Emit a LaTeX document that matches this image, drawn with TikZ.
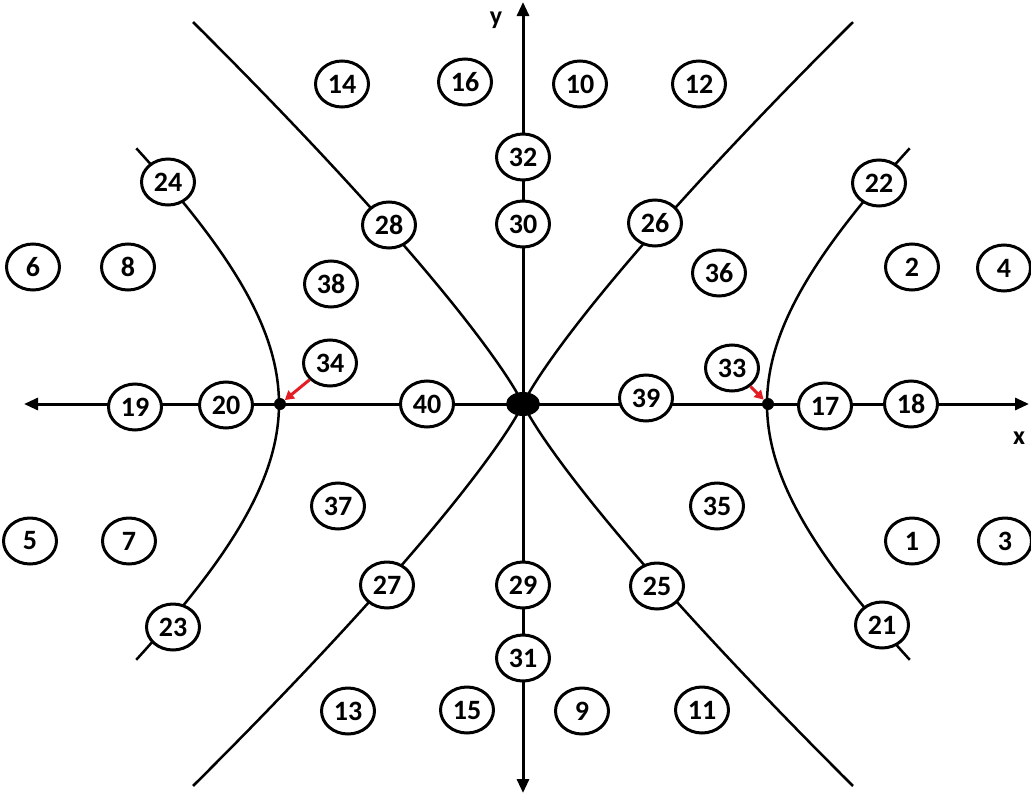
\documentclass[tikz,border=0pt]{standalone}
\usepackage{fontspec}
\setmainfont{Carlito}
\usetikzlibrary{shapes.geometric,arrows.meta}
\definecolor{arrred}{RGB}{228,28,36}
\begin{document}
\begin{tikzpicture}[x=1pt,y=-1pt,
  num/.style={ellipse,draw,line width=3pt,fill=white,minimum width=53pt,minimum height=46pt,inner sep=0pt,font=\fontsize{28}{30}\selectfont\bfseries},
  curve/.style={line width=2.5pt},
  axisline/.style={line width=3pt,{Triangle[length=14pt,width=12pt]}-{Triangle[length=14pt,width=12pt]}},
  redarr/.style={draw=arrred,line width=3pt,-{Triangle[length=9pt,width=10pt]}},
  dotnode/.style={circle,fill=black,inner sep=0pt,minimum size=12pt},
  axlabel/.style={font=\fontsize{26}{28}\selectfont\bfseries,inner sep=0pt}]
\useasboundingbox (0,0) rectangle (1031,795);
% coordinates
\coordinate (xl) at (24,404);
\coordinate (xr) at (1029,404);
\coordinate (yt) at (523,2);
\coordinate (yb) at (523,793);
% central curves
\foreach \sx in {-1,1}{
  \foreach \sy in {-1,1}{
    \draw[curve] plot[domain=0:330,samples=90] ({523+(\sx)*\x},{404-(\sy)*(2.72*pow(\x+2,0.854)-4.92)});
  }
}
% side hyperbolas
\foreach \s in {-1,1}{
  \draw[curve] plot[domain=-1.035:1.035,samples=80] ({523+(\s)*244*cosh(\x)},{404-208*sinh(\x)});
}
% axes
\draw[axisline] (xl) -- (xr);
\draw[axisline] (yb) -- (yt);
% dots
\node[ellipse,fill=black,minimum width=34pt,minimum height=24pt,inner sep=0pt] (O) at (523,404) {};
\node[dotnode] (dL) at (280,404) {};
\node[dotnode] (dR) at (768,404) {};
% numbered nodes
\node[num] (n1) at (912,541) {1};
\node[num] (n2) at (912,267) {2};
\node[num] (n3) at (1005,541) {3};
\node[num] (n4) at (1004,268) {4};
\node[num] (n5) at (30,541) {5};
\node[num] (n6) at (33,267) {6};
\node[num] (n7) at (129,541) {7};
\node[num] (n8) at (128,267) {8};
\node[num] (n9) at (582,711) {9};
\node[num] (n10) at (580,84) {10};
\node[num] (n11) at (702,710) {11};
\node[num] (n12) at (699,84) {12};
\node[num] (n13) at (348,711) {13};
\node[num] (n14) at (342,84) {14};
\node[num] (n15) at (467,710) {15};
\node[num] (n16) at (465,82) {16};
\node[num] (n17) at (825,406) {17};
\node[num] (n18) at (911,404) {18};
\node[num] (n19) at (135,407) {19};
\node[num] (n20) at (226,405) {20};
\node[num] (n21) at (882,625) {21};
\node[num] (n22) at (879,183) {22};
\node[num] (n23) at (173,627) {23};
\node[num] (n24) at (168,182) {24};
\node[num] (n25) at (657,586) {25};
\node[num] (n26) at (655,223) {26};
\node[num] (n27) at (387,585) {27};
\node[num] (n28) at (389,225) {28};
\node[num] (n29) at (523,585) {29};
\node[num] (n30) at (523,224) {30};
\node[num] (n31) at (523,658) {31};
\node[num] (n32) at (523,157) {32};
\node[num] (n33) at (732,368) {33};
\node[num] (n34) at (330,363) {34};
\node[num] (n35) at (717,506) {35};
\node[num] (n36) at (719,273) {36};
\node[num] (n37) at (338,506) {37};
\node[num] (n38) at (331,284) {38};
\node[num] (n39) at (646,398) {39};
\node[num] (n40) at (427,404) {40};
% red arrows
\draw[redarr] (n33) -- (dR);
\draw[redarr] (n34) -- (dL);
% axis labels
\node[axlabel] (ylab) at (496,20) {y};
\node[axlabel] (xlab) at (1019,438) {x};
\end{tikzpicture}
\end{document}
